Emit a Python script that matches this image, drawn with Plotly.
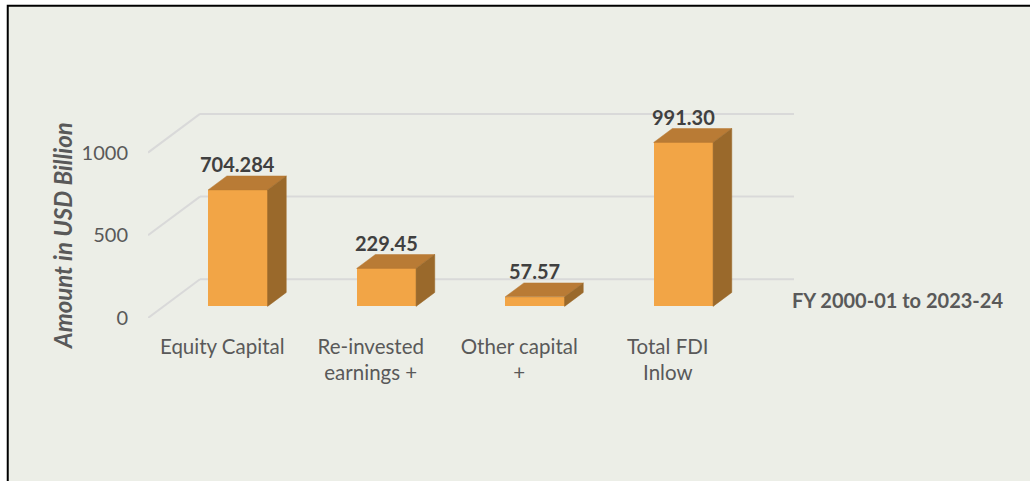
import plotly.graph_objects as go

# ---------------- data ----------------
categories = ["Equity Capital", "Re-invested<br>earnings +", "Other capital<br>+", "Total FDI<br>Inlow"]
values = [704.284, 229.45, 57.57, 991.30]
value_labels = ["704.284", "229.45", "57.57", "991.30"]
y_ticks = [0, 500, 1000]
legend_label = "FY 2000-01 to 2023-24"
axis_title = "Amount in USD Billion"

# ---------------- styling / pseudo-3D geometry ----------------
W, H = 1030, 481
ML, MR, MT, MB = 148.3, 235.5, 103.3, 162.7
PW, PH = W - ML - MR, H - MT - MB
Y_MAX = 1300
DEPTH_X = 0.35      # full floor depth in x data units
DEPTH_Y = 234.0     # full floor depth in y data units
D_FRONT, D_BACK = 0.30, 0.66
BAR_W = 0.40
C_FRONT, C_TOP, C_SIDE = "#F2A546", "#B97B35", "#9A692B"
BG = "#ECEEE7"
GRID = "#D9D9D9"
FONT = "Lato"


def px_x(X):
    return (X - ML) / PW


def px_y(Y):
    return (H - MB - Y) / PH


n = len(values)
fig = go.Figure()

# front faces
fx = [i + D_FRONT * DEPTH_X for i in range(n)]
base = D_FRONT * DEPTH_Y
fig.add_trace(go.Bar(
    x=fx, y=values, base=[base] * n, width=BAR_W,
    marker=dict(color=C_FRONT, line=dict(width=0)),
    hoverinfo="skip", showlegend=False,
))

dd = D_BACK - D_FRONT
for i, v in enumerate(values):
    xl = fx[i] - BAR_W / 2
    xr = fx[i] + BAR_W / 2
    top = base + v
    ox, oy = dd * DEPTH_X, dd * DEPTH_Y
    # top face
    fig.add_trace(go.Scatter(
        x=[xl, xr, xr + ox, xl + ox, xl], y=[top, top, top + oy, top + oy, top],
        fill="toself", fillcolor=C_TOP, mode="lines", line=dict(width=0.5, color=C_TOP),
        hoverinfo="skip", showlegend=False,
    ))
    # side face
    fig.add_trace(go.Scatter(
        x=[xr, xr, xr + ox, xr + ox, xr], y=[base, top, top + oy, base + oy, base],
        fill="toself", fillcolor=C_SIDE, mode="lines", line=dict(width=0.5, color=C_SIDE),
        hoverinfo="skip", showlegend=False,
    ))

shapes = [dict(type="rect", xref="paper", yref="paper",
               x0=px_x(8), x1=px_x(1040), y0=px_y(495), y1=px_y(6),
               fillcolor=BG, line=dict(color="black", width=2), layer="below")]
x_left = -0.5
x_right = n - 0.5
for v in y_ticks:
    shapes.append(dict(type="line", xref="x", yref="y", x0=x_left, y0=v,
                       x1=x_left + DEPTH_X, y1=v + DEPTH_Y,
                       line=dict(color=GRID, width=2), layer="below"))
    shapes.append(dict(type="line", xref="x", yref="y", x0=x_left + DEPTH_X, y0=v + DEPTH_Y,
                       x1=x_right + DEPTH_X, y1=v + DEPTH_Y,
                       line=dict(color=GRID, width=2), layer="below"))

annotations = []
for i, v in enumerate(values):
    annotations.append(dict(
        x=fx[i], y=v + D_BACK * DEPTH_Y, xref="x", yref="y", text=value_labels[i],
        showarrow=False, yanchor="bottom", xanchor="center", yshift=-2,
        font=dict(family=FONT, size=20, color="#404040", weight="bold"),
    ))
annotations.append(dict(
    x=px_x(898), y=px_y(300), xref="paper", yref="paper", text=legend_label,
    showarrow=False, xanchor="center", yanchor="middle",
    font=dict(family=FONT, size=20, color="#595959", weight="bold"),
))
annotations.append(dict(
    x=px_x(62), y=px_y(235.5), xref="paper", yref="paper", text=f"<b><i>{axis_title}</i></b>",
    showarrow=False, xanchor="center", yanchor="middle", textangle=-90,
    font=dict(family=FONT, size=24, color="#595959"),
))

fig.update_layout(
    width=W, height=H,
    margin=dict(l=ML, r=MR, t=MT, b=MB, pad=0),
    paper_bgcolor="white", plot_bgcolor="rgba(0,0,0,0)",
    shapes=shapes, annotations=annotations,
    xaxis=dict(range=[x_left, x_right + DEPTH_X], tickvals=list(range(n)), ticktext=categories,
               showgrid=False, zeroline=False, showline=False, ticks="",
               ticklabelstandoff=14,
               tickfont=dict(family=FONT, size=20.5, color="#595959"), fixedrange=True),
    yaxis=dict(range=[0, Y_MAX], tickvals=y_ticks, ticktext=[str(t) for t in y_ticks],
               showgrid=False, zeroline=False, showline=False, ticks="",
               ticklabelstandoff=19,
               tickfont=dict(family=FONT, size=20, color="#595959"), fixedrange=True),
    bargap=0, showlegend=False,
)

fig.write_html("out.html", config={"displayModeBar": False},
               post_script="document.body.style.margin='0px';document.body.style.overflow='hidden';")
